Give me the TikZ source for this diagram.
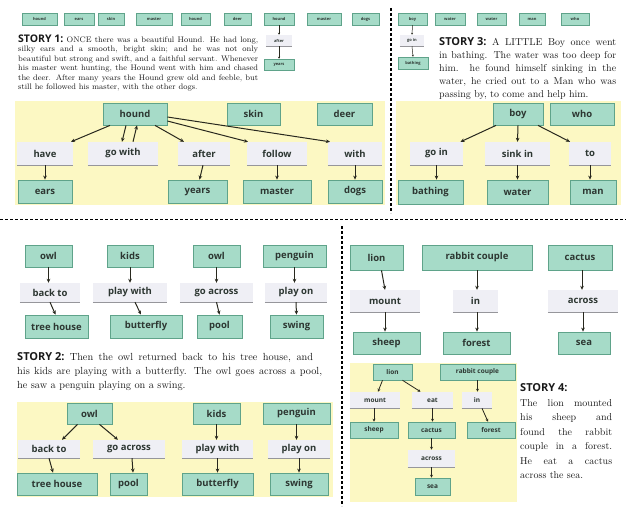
\documentclass[tikz,border=0pt]{standalone}
\usepackage{fontspec}
\setsansfont{Open Sans}
\usetikzlibrary{arrows.meta}
\definecolor{tfill}{RGB}{166,219,200}
\definecolor{tdraw}{RGB}{95,163,138}
\definecolor{gfill}{RGB}{239,239,245}
\definecolor{glin}{RGB}{150,150,155}
\definecolor{ybg}{RGB}{252,248,195}
\definecolor{ntext}{RGB}{45,55,50}
\definecolor{arr}{RGB}{40,40,30}
\tikzset{
 tbox/.style={draw=tdraw, fill=tfill, line width=0.8pt, inner sep=0pt, text=ntext,
   font=\sffamily\bfseries\fontsize{9.5}{10}\selectfont},
 gbox/.style={fill=gfill, inner sep=0pt, text=ntext,
   font=\sffamily\bfseries\fontsize{9.5}{10}\selectfont},
 small/.style={font=\sffamily\bfseries\fontsize{4}{4}\selectfont, line width=0.5pt},
 mid/.style={font=\sffamily\bfseries\fontsize{6.5}{7}\selectfont, line width=0.6pt},
 arw/.style={-{Stealth[length=4pt,width=3.6pt]}, line width=1pt, draw=arr},
 arws/.style={-{Stealth[length=2pt,width=2pt]}, line width=0.5pt, draw=arr},
 arwm/.style={-{Stealth[length=3pt,width=3pt]}, line width=0.8pt, draw=arr},
 sep/.style={draw=black, line width=1.3pt, dash pattern=on 3pt off 2pt},
 body/.style={anchor=base west, inner sep=0pt, text=black!90},
 bsmall/.style={body, font=\fontsize{8}{9}\selectfont},
 bbig/.style={body, font=\fontsize{10}{11}\selectfont},
 bmid/.style={body, font=\fontsize{10.3}{11}\selectfont},
}
\newcommand\TB[7][]{\node[tbox,#1,minimum width={(#5-#3)*1pt},minimum height={(#6-#4)*1pt}] (#2) at ({(#3+#5)/2},{(#4+#6)/2}) {#7};}
\newcommand\GB[7][]{\node[gbox,#1,minimum width={(#5-#3)*1pt},minimum height={(#6-#4)*1pt}] (#2) at ({(#3+#5)/2},{(#4+#6)/2}) {#7};
 \draw[glin, line width=0.6pt] (#2.south west) -- (#2.south east);}
\begin{document}
\begin{tikzpicture}[x=1pt,y=-1pt]
\useasboundingbox (0,0) rectangle (626,508);
% backgrounds
\fill[ybg] (15,101) rectangle (385,205);
\fill[ybg] (396,101) rectangle (621,205);
\fill[ybg] (17,402) rectangle (333,497);
\fill[ybg] (350,363) rectangle (517,502);
% separators
\coordinate (v1t) at (391,8); \coordinate (v1b) at (391,213);
\coordinate (hl) at (0,219); \coordinate (hr) at (626,219);
\coordinate (v2t) at (342,226); \coordinate (v2b) at (342,506);
\draw[sep] (v1t) -- (v1b);
\draw[sep, line width=1pt] (hl) -- (hr);
\draw[sep] (v2t) -- (v2b);

% ---------- texts
\node[bsmall] (t1a) at (18,42.5) {\makebox[240pt][s]{\mbox{\sffamily\bfseries\fontsize{10.5}{11}\selectfont STORY 1:} ONCE there was a beautiful Hound. He had long,}};
\node[bsmall] (t1b) at (18,52) {\makebox[240pt][s]{silky ears and a smooth, bright skin; and he was not only}};
\node[bsmall] (t1c) at (18,61.5) {\makebox[240pt][s]{beautiful but strong and swift, and a faithful servant. Whenever}};
\node[bsmall] (t1d) at (18,71) {\makebox[240pt][s]{his master went hunting, the Hound went with him and chased}};
\node[bsmall] (t1e) at (18,80.5) {\makebox[240pt][s]{the deer. After many years the Hound grew old and feeble, but}};
\node[bsmall] (t1f) at (18,90) {still he followed his master, with the other dogs.};

\node[bbig] (t3a) at (439,46) {\makebox[177pt][s]{\mbox{\sffamily\bfseries\fontsize{11}{12}\selectfont STORY 3:} A LITTLE Boy once went}};
\node[bbig] (t3b) at (439,59) {\makebox[177pt][s]{in bathing. The water was too deep for}};
\node[bbig] (t3c) at (439,72) {\makebox[177pt][s]{him. he found himself sinking in the}};
\node[bbig] (t3d) at (439,85) {\makebox[177pt][s]{water, he cried out to a Man who was}};
\node[bbig] (t3e) at (439,98) {passing by, to come and help him.};

\node[bmid] (t2a) at (17,360) {\makebox[296pt][s]{\mbox{\sffamily\bfseries\fontsize{11}{12}\selectfont STORY 2:} Then the owl returned back to his tree house, and}};
\node[bmid] (t2b) at (17,374) {\makebox[305pt][s]{his kids are playing with a butterfly. The owl goes across a pool,}};
\node[bmid] (t2c) at (17,388) {he saw a penguin playing on a swing.};

\node[body, font=\sffamily\bfseries\fontsize{11}{12}\selectfont] (t4h) at (520,391) {STORY 4:};
\node[bbig] (t4a) at (520,406) {\makebox[92pt][s]{The lion mounted}};
\node[bbig] (t4b) at (520,420.5) {\makebox[92pt][s]{his sheep and}};
\node[bbig] (t4c) at (520,435) {\makebox[92pt][s]{found the rabbit}};
\node[bbig] (t4d) at (520,449.5) {\makebox[92pt][s]{couple in a forest.}};
\node[bbig] (t4e) at (520,464) {\makebox[92pt][s]{He eat a cactus}};
\node[bbig] (t4f) at (520,478.5) {across the sea.};

% ---------- top small row, story 1
\TB[small]{sa1}{22}{13}{57}{25}{hound}
\TB[small]{sa2}{64}{13}{94}{25}{ears}
\TB[small]{sa3}{98}{13}{124}{25}{skin}
\TB[small]{sa4}{136}{13}{172}{25}{master}
\TB[small]{sa5}{181}{13}{210}{25}{hound}
\TB[small]{sa6}{224}{13}{251}{25}{deer}
\TB[small]{sa7}{264}{13}{294}{25}{hound}
\TB[small]{sa8}{307}{13}{341}{25}{master}
\TB[small]{sa9}{352}{13}{379}{25}{dogs}
\GB[small]{safter}{266}{35}{292}{46}{after}
\TB[small]{sayears}{264}{59}{294}{70}{years}
\draw[arws] (sa7.south) -- (safter.north);
\draw[arws] (safter.south) -- (sayears.north);
% top small row, story 3
\TB[small]{sb1}{398}{13}{427}{25}{boy}
\TB[small]{sb2}{435}{13}{465}{25}{water}
\TB[small]{sb3}{477}{13}{506}{25}{water}
\TB[small]{sb4}{519}{13}{545}{25}{man}
\TB[small]{sb5}{561}{13}{589}{25}{who}
\GB[small]{sbgoin}{400}{35}{424}{46}{go in}
\TB[small]{sbbath}{398}{57}{428}{69}{bathing}
\draw[arws] (sb1.south) -- (sbgoin.north);
\draw[arws] (sbgoin.south) -- (sbbath.north);

% ---------- story 1 panel
\TB{hound}{103}{103}{167}{125}{hound}
\TB{skin}{227}{103}{280}{125}{skin}
\TB{deer}{317}{103}{372}{125}{deer}
\GB{have}{17}{142}{73}{165}{have}
\GB{gowith}{88}{142}{158}{165}{go with}
\GB{after}{178}{142}{230}{165}{after}
\GB{follow}{247}{142}{307}{165}{follow}
\GB{with}{328}{142}{382}{165}{with}
\TB{ears}{18}{180}{72}{203}{ears}
\TB{years}{168}{180}{227}{203}{years}
\TB{master}{243}{180}{311}{203}{master}
\TB{dogs}{328}{180}{382}{203}{dogs}
\draw[arw] ([xshift=-25pt]hound.south) -- ([xshift=26pt]have.north);
\draw[arw] ([xshift=-9pt]hound.south) -- ([xshift=-1pt]gowith.north);
\draw[arw] ([xshift=10pt]gowith.north) -- ([xshift=2pt]hound.south);
\draw[arw] ([xshift=20pt]hound.south) -- ([xshift=-20pt]after.north);
\draw[arw] ([yshift=-7pt]hound.east) -- ([xshift=-29pt]follow.north);
\draw[arw] ([yshift=-3pt]hound.east) -- ([xshift=-25pt]with.north);
\draw[arw] (have.south) -- (ears.north);
\draw[arw] ([xshift=-1pt]after.south) -- ([xshift=2pt]years.north);
\draw[arw] (follow.south) -- (master.north);
\draw[arw] (with.south) -- (dogs.north);

% ---------- story 3 panel
\TB{boy}{493}{103}{543}{125}{boy}
\TB{who}{550}{103}{614}{125}{who}
\GB{goin}{410}{142}{463}{165}{go in}
\GB{sinkin}{485}{142}{550}{165}{sink in}
\GB{to}{569}{142}{611}{165}{to}
\TB{bathing}{398}{180}{463}{204}{bathing}
\TB{water}{487}{180}{548}{204}{water}
\TB{man}{570}{180}{616}{204}{man}
\draw[arw] ([xshift=-22pt]boy.south) -- ([xshift=24pt]goin.north);
\draw[arw] (boy.south) -- (sinkin.north);
\draw[arw] ([xshift=20pt]boy.south) -- ([xshift=-20pt]to.north);
\draw[arw] (goin.south) -- (goin.south |- bathing.north);
\draw[arw] (sinkin.south) -- (sinkin.south |- water.north);
\draw[arw] (to.south) -- (to.south |- man.north);

% ---------- story 2 chains
\TB{owlA}{25}{245}{72}{267}{owl}
\TB{kidsA}{107}{245}{153}{267}{kids}
\TB{owlB}{193}{245}{240}{267}{owl}
\TB{penguinA}{263}{245}{326}{267}{penguin}
\GB{backtoA}{20}{283}{80}{302}{back to}
\GB{playwithA}{93}{283}{167}{302}{play with}
\GB{goacrossA}{180}{283}{253}{302}{go across}
\GB{playonA}{265}{283}{327}{302}{play on}
\TB{treehouseA}{25}{315}{88}{338}{tree house}
\TB{butterflyA}{110}{315}{182}{338}{butterfly}
\TB{poolA}{197}{315}{242}{338}{pool}
\TB{swingA}{270}{315}{323}{338}{swing}
\draw[arw] (owlA.south) -- (owlA.south |- backtoA.north);
\draw[arw] (backtoA.south) -- ([xshift=-1pt]treehouseA.north);
\draw[arw] (kidsA.south) -- (kidsA.south |- playwithA.north);
\draw[arw] ([xshift=5pt]playwithA.south) -- ([xshift=-5pt]butterflyA.north);
\draw[arw] (owlB.south) -- (owlB.south |- goacrossA.north);
\draw[arw] (goacrossA.south) -- (poolA.north);
\draw[arw] (penguinA.south) -- (penguinA.south |- playonA.north);
\draw[arw] (playonA.south) -- (swingA.north);

% ---------- story 2 panel
\TB{owlC}{67}{403}{112}{424}{owl}
\TB{kidsC}{193}{403}{240}{424}{kids}
\TB{penguinC}{263}{403}{330}{424}{penguin}
\GB{backtoC}{18}{440}{80}{458}{back to}
\GB{goacrossC}{93}{440}{165}{458}{go across}
\GB{playwithC}{182}{440}{253}{458}{play with}
\GB{playonC}{268}{440}{330}{458}{play on}
\TB{treehouseC}{17}{473}{97}{495}{tree house}
\TB{poolC}{110}{473}{147}{495}{pool}
\TB{butterflyC}{182}{473}{253}{495}{butterfly}
\TB{swingC}{270}{473}{328}{495}{swing}
\draw[arw] ([xshift=-12pt]owlC.south) -- ([xshift=13pt]backtoC.north);
\draw[arw] ([xshift=10pt]owlC.south) -- ([xshift=-11pt]goacrossC.north);
\draw[arw] (backtoC.south) -- ([xshift=-4pt]treehouseC.north);
\draw[arw] ([xshift=3pt]goacrossC.south) -- ([xshift=4.5pt]poolC.north);
\draw[arw] (kidsC.south) -- (kidsC.south |- playwithC.north);
\draw[arw] (playwithC.south) -- (butterflyC.north);
\draw[arw] (penguinC.south) -- (penguinC.south |- playonC.north);
\draw[arw] (playonC.south) -- (swingC.north);

% ---------- story 4 chains
\TB{lionD}{350}{245}{403}{270}{lion}
\TB{rabbitD}{422}{245}{532}{270}{rabbit couple}
\TB{cactusD}{548}{245}{612}{270}{cactus}
\GB{mountD}{350}{290}{420}{312}{mount}
\GB{inD}{453}{290}{498}{312}{in}
\GB{acrossD}{548}{290}{618}{312}{across}
\TB{sheepD}{353}{332}{420}{354}{sheep}
\TB{forestD}{443}{332}{510}{354}{forest}
\TB{seaD}{558}{332}{610}{354}{sea}
\draw[arw] ([xshift=5pt]lionD.south) -- (mountD.north);
\draw[arw] (mountD.south) -- (mountD.south |- sheepD.north);
\draw[arw] (rabbitD.south) -- (rabbitD.south |- inD.north);
\draw[arw] ([xshift=1.5pt]inD.south) -- ([xshift=1.5pt]inD.south |- forestD.north);
\draw[arw] ([xshift=2pt]cactusD.south) -- ([xshift=2pt]cactusD.south |- acrossD.north);
\draw[arw] (acrossD.south) -- (acrossD.south |- seaD.north);

% ---------- story 4 panel
\TB[mid]{lionE}{373}{364}{412}{380}{lion}
\TB[mid]{rabbitE}{440}{364}{515}{380}{rabbit couple}
\GB[mid]{mountE}{350}{392}{400}{408}{mount}
\GB[mid]{eatE}{412}{392}{453}{408}{eat}
\GB[mid]{inE}{462}{392}{492}{408}{in}
\TB[mid]{sheepE}{350}{422}{398}{438}{sheep}
\TB[mid]{cactusE}{408}{422}{455}{438}{cactus}
\TB[mid]{forestE}{467}{422}{515}{438}{forest}
\GB[mid]{acrossE}{408}{450}{455}{467}{across}
\TB[mid]{seaE}{415}{478}{450}{495}{sea}
\draw[arwm] ([xshift=-10pt]lionE.south) -- ([xshift=3pt]mountE.north);
\draw[arwm] ([xshift=10pt]lionE.south) -- ([xshift=-12pt]eatE.north);
\draw[arwm] ([xshift=-1pt]mountE.south) -- ([xshift=-1pt]mountE.south |- sheepE.north);
\draw[arwm] (eatE.south) -- (eatE.south |- cactusE.north);
\draw[arwm] (rabbitE.south) -- (rabbitE.south |- inE.north);
\draw[arwm] ([xshift=5pt]inE.south) -- ([xshift=-3pt]forestE.north);
\draw[arwm] (cactusE.south) -- (cactusE.south |- acrossE.north);
\draw[arwm] (acrossE.south) -- (acrossE.south |- seaE.north);
\end{tikzpicture}
\end{document}
